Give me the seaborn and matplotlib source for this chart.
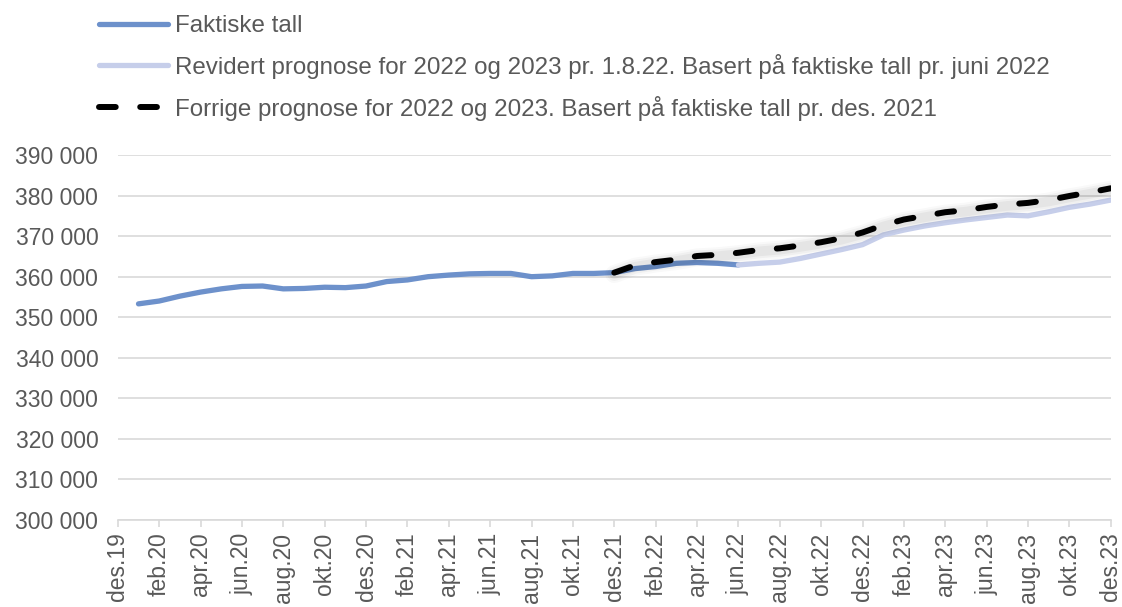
import numpy as np
import pandas as pd
import matplotlib
matplotlib.use("Agg")
import matplotlib.pyplot as plt
import seaborn as sns
from matplotlib.ticker import FuncFormatter

# ---------------------------------------------------------
# DATA (values in thousands)
# ---------------------------------------------------------
MONTHS = ['jan', 'feb', 'mar', 'apr', 'mai', 'jun',
          'jul', 'aug', 'sep', 'okt', 'nov', 'des']

# monthly axis des.19 .. des.23
month_labels = ['des.19'] + [f'{m}.{y}' for y in (20, 21, 22, 23) for m in MONTHS]

# Faktiske tall: jan.20 .. jun.22
actual = [353.3, 354.0, 355.2, 356.2, 357.0, 357.6, 357.7, 357.0, 357.1, 357.4, 357.3, 357.7,
          358.8, 359.2, 360.0, 360.4, 360.7, 360.8, 360.8, 360.0, 360.2, 360.8, 360.8, 361.0,
          362.0, 362.5, 363.3, 363.5, 363.3, 362.9]

# Revidert prognose: jun.22 .. des.23
revised = [362.9, 363.3, 363.6, 364.5, 365.6, 366.7, 367.9,
           370.3, 371.5, 372.5, 373.3, 374.0, 374.6, 375.2, 375.0, 376.0, 377.1, 377.9, 378.9]

# Forrige prognose: des.21 .. des.23
previous = [361.0,
            362.8, 363.6, 364.2, 365.1, 365.4, 365.9, 366.6, 367.0, 367.7, 368.5, 369.5, 370.9,
            372.7, 374.1, 375.0, 375.9, 376.4, 377.2, 377.8, 378.2, 378.9, 379.9, 380.8, 381.8]

LABELS = ['Faktiske tall',
          'Revidert prognose for 2022 og 2023 pr. 1.8.22. Basert på faktiske tall pr. juni 2022',
          'Forrige prognose for 2022 og 2023. Basert på faktiske tall pr. des. 2021']

# ---------------------------------------------------------
# BUILD FRAMES
# ---------------------------------------------------------
idx_actual = month_labels.index('jan.20')
idx_revised = month_labels.index('jun.22')
idx_previous = month_labels.index('des.21')

df_act = pd.DataFrame({'x': np.arange(len(actual)) + idx_actual,
                       'y': np.array(actual) * 1000})
df_rev = pd.DataFrame({'x': np.arange(len(revised)) + idx_revised,
                       'y': np.array(revised) * 1000})
df_prev = pd.DataFrame({'x': np.arange(len(previous)) + idx_previous,
                        'y': np.array(previous) * 1000})

# ---------------------------------------------------------
# PLOT
# ---------------------------------------------------------
sns.set_theme(style='white')
plt.rcParams['font.family'] = ['Liberation Sans', 'DejaVu Sans']
TEXT = '#595959'
GRID = '#D9D9D9'
FS = 16.5      # tick labels
FS_LEG = 17.4  # legend

fig = plt.figure(figsize=(11.22, 6.07), dpi=100)
ax = fig.add_axes([0.105, 0.1433, 0.885, 0.6013])

sns.lineplot(data=df_act, x='x', y='y', ax=ax, color='#6D91CB', linewidth=3.8,
             solid_capstyle='round', label=LABELS[0], zorder=3)
sns.lineplot(data=df_rev, x='x', y='y', ax=ax, color='#C6CEEA', linewidth=3.8,
             solid_capstyle='round', label=LABELS[1], zorder=3)

# soft shadow under the dashed line
for lw, a in [(13, 0.025), (10, 0.035), (7, 0.045)]:
    ax.plot(df_prev['x'], df_prev['y'] - 350, color='black', linewidth=lw, alpha=a,
            solid_capstyle='round', zorder=4)
sns.lineplot(data=df_prev, x='x', y='y', ax=ax, color='black', linewidth=4.3,
             dashes=False, label=LABELS[2], zorder=5)
ax.lines[-1].set_dashes((2.8, 4.1))
ax.lines[-1].set_dash_capstyle('round')

ax.set_xlim(0, len(month_labels) - 1)
ax.set_ylim(300000, 390000)
ax.set_yticks(np.arange(300000, 390001, 10000))
ax.yaxis.set_major_formatter(FuncFormatter(lambda v, p: f'{int(v):,}'.replace(',', ' ')))
ax.set_xticks(np.arange(0, len(month_labels), 2))
ax.set_xticklabels(month_labels[::2], rotation=90)

ax.grid(axis='y', color=GRID, linewidth=1.2)
ax.set_axisbelow(True)
for s in ['left', 'right', 'top']:
    ax.spines[s].set_visible(False)
ax.spines['bottom'].set_color(GRID)
ax.spines['bottom'].set_linewidth(1.2)
ax.tick_params(axis='x', bottom=True, length=5, width=1.2, color=GRID,
               labelsize=FS, labelcolor=TEXT, pad=4)
ax.tick_params(axis='y', left=False, labelsize=FS, labelcolor=TEXT, pad=8)
ax.set_xlabel('')
ax.set_ylabel('')

handles, labels = ax.get_legend_handles_labels()
leg = ax.legend(handles, labels, loc='upper left', bbox_to_anchor=(0.088, 0.975),
                bbox_transform=fig.transFigure, frameon=False, fontsize=FS_LEG,
                handlelength=2.85, handletextpad=0.3, labelspacing=0.69,
                borderaxespad=0, borderpad=0)
for t in leg.get_texts():
    t.set_color(TEXT)

fig.savefig('out.png', dpi=100)
